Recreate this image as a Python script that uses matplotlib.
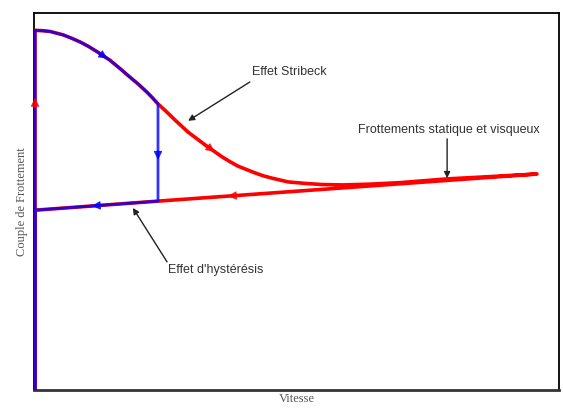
import numpy as np
import matplotlib
matplotlib.use("Agg")
import matplotlib.pyplot as plt

# Courbe de Stribeck (vitesse normalisee, couple normalise)
v_curve = [0.000, 0.015, 0.030, 0.056, 0.073, 0.090, 0.107, 0.124, 0.149,
           0.169, 0.189, 0.206, 0.223, 0.234, 0.245, 0.262, 0.279, 0.292,
           0.305, 0.322, 0.339, 0.356, 0.373, 0.388, 0.404, 0.421, 0.438,
           0.455, 0.472, 0.488, 0.504, 0.521, 0.538, 0.572, 0.614, 0.667,
           0.727, 0.821, 0.906, 1.000]
c_curve = [0.954, 0.953, 0.951, 0.942, 0.933, 0.923, 0.911, 0.897, 0.875,
           0.853, 0.830, 0.811, 0.790, 0.775, 0.759, 0.738, 0.716, 0.700,
           0.684, 0.667, 0.650, 0.634, 0.618, 0.606, 0.594, 0.585, 0.576,
           0.568, 0.562, 0.557, 0.552, 0.550, 0.548, 0.545, 0.544, 0.546,
           0.550, 0.560, 0.566, 0.573]

# droite statique + visqueux (retour)
v_line = [0.000, 0.245, 1.000]
c_line = [0.477, 0.501, 0.573]

# indice du point de decrochage (hysteresis)
i_jump = 14

RED = "#ff0000"
BLUE = "#0000ff"


def arrow_on(ax, xs, ys, i, t, color):
    """petite fleche sur le segment i -> i+1, a la fraction t"""
    x0, y0 = xs[i], ys[i]
    x1, y1 = xs[i + 1], ys[i + 1]
    xm, ym = x0 + t * (x1 - x0), y0 + t * (y1 - y0)
    d = np.hypot(x1 - x0, y1 - y0)
    dx, dy = (x1 - x0) / d * 0.012, (y1 - y0) / d * 0.012
    ax.annotate("", xy=(xm + dx, ym + dy), xytext=(xm - dx, ym - dy),
                arrowprops=dict(arrowstyle="-|>", color=color, lw=0.8,
                                mutation_scale=13, alpha=0.8,
                                shrinkA=0, shrinkB=0),
                zorder=6)


fig = plt.figure(figsize=(5.63, 4.15), dpi=100)
ax = fig.add_axes([0.0604, 0.0602, 0.9326, 0.9085])

# trajet rouge : montee, Stribeck, retour par la droite
red_x = [0.0, 0.0] + v_curve[1:] + v_line[::-1]
red_y = [0.0, c_curve[0]] + c_curve[1:] + c_line[::-1]
ax.plot(red_x, red_y, color=RED, lw=2.6, solid_joinstyle="round", zorder=3)
ax.plot([0.0, 0.0], [0.0, c_line[0]], color=RED, lw=2.6, zorder=3)

# trajet bleu : montee, Stribeck jusqu'au decrochage, chute, retour
blue_x = [0.0, 0.0] + v_curve[1:i_jump + 1] + [v_line[1], v_line[0], v_line[0]]
blue_y = [0.0, c_curve[0]] + c_curve[1:i_jump + 1] + [c_line[1], c_line[0], 0.0]
ax.plot(blue_x, blue_y, color=BLUE, lw=2.0, alpha=0.8,
        solid_joinstyle="round", zorder=4)

# fleches de sens de parcours
arrow_on(ax, [0.0, 0.0], [0.0, c_curve[0]], 0, 0.80, RED)
arrow_on(ax, v_curve, c_curve, 7, 0.45, BLUE)
arrow_on(ax, v_curve, c_curve, 20, 0.60, RED)
arrow_on(ax, [v_line[1], v_line[1]], [c_curve[i_jump], c_line[1]], 0, 0.53, BLUE)
arrow_on(ax, v_line[::-1], c_line[::-1], 1, 0.49, BLUE)
arrow_on(ax, v_line[::-1], c_line[::-1], 0, 0.80, RED)

# annotations
txt = dict(fontsize=9, color="#333333", family="Liberation Sans")
arr = dict(arrowstyle="-|>", color="#222222", lw=1.0, mutation_scale=9,
           shrinkA=0, shrinkB=0)
ax.text(0.432, 0.843, "Effet Stribeck", ha="left", va="center", **txt)
ax.annotate("", xy=(0.305, 0.714), xytext=(0.428, 0.817), arrowprops=arr)
ax.text(0.643, 0.690, "Frottements statique et visqueux", ha="left",
        va="center", **txt)
ax.annotate("", xy=(0.821, 0.562), xytext=(0.821, 0.666), arrowprops=arr)
ax.text(0.265, 0.318, "Effet d'hystérésis", ha="left", va="center", **txt)
ax.annotate("", xy=(0.195, 0.483), xytext=(0.263, 0.340), arrowprops=arr)

ax.set_xlim(-0.002, 1.044)
ax.set_ylim(0, 1)
ax.set_xticks([])
ax.set_yticks([])
for s in ["top", "right"]:
    ax.spines[s].set_linewidth(1.3)
ax.spines["bottom"].set_linewidth(2.0)
ax.spines["bottom"].set_color("#333333")
ax.spines["left"].set_linewidth(1.3)

ax.set_xlabel("Vitesse", fontsize=9, family="Liberation Serif",
              color="#555555", labelpad=2)
ax.set_ylabel("Couple de Frottement", fontsize=9, family="Liberation Serif",
              color="#555555", labelpad=4)

fig.savefig("out.png", dpi=100)
